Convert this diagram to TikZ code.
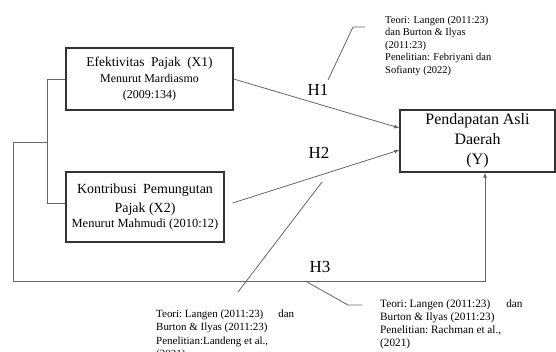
\documentclass[tikz,border=0pt]{standalone}
\usepackage{fontspec}
\setmainfont{Liberation Serif}
\usetikzlibrary{arrows.meta,calc}
\begin{document}
\begin{tikzpicture}[x=1bp,y=-1bp,
  box/.style={draw=black!80,line width=1.2bp,align=center,inner sep=0pt},
  conn/.style={draw=black!60,line width=0.8bp},
  arr/.style={conn,-{Latex[length=5bp,width=4bp]}},
  hlab/.style={font=\fontsize{17}{20}\selectfont,inner sep=2bp},
  note/.style={align=left,anchor=north west,inner sep=0pt}]
\useasboundingbox (0,0) rectangle (556,351);
% boxes
\node[box,minimum width=167bp,minimum height=62bp,font=\fontsize{12}{16.5}\selectfont] (x1) at (149.5,79)
  {{\fontsize{13.5}{16.5}\selectfont Efektivitas\hspace{3bp} Pajak\hspace{3bp} (X1)}\\Menurut Mardiasmo\\(2009:134)};
\node[box,minimum width=158bp,minimum height=70bp,font=\fontsize{12.5}{15.5}\selectfont] (x2) at (145,207)
  {{\fontsize{14}{15.5}\selectfont Kontribusi\hspace{3bp} Pemungutan}\\[3bp]{\fontsize{14}{15.5}\selectfont Pajak (X2)}\\Menurut Mahmudi (2010:12)};
\node[box,minimum width=155bp,minimum height=62bp,font=\fontsize{16}{20}\selectfont] (y) at (477.5,141)
  {Pendapatan Asli\\Daerah\\(Y)};
% connectors
\draw[arr] (x1.east) -- ([yshift=13bp]y.west);
\draw[arr] ([xshift=8bp,yshift=4bp]x2.east) -- ([yshift=-9bp]y.west);
\coordinate (brk) at (48,142);
\coordinate (lc) at (13,142);
\coordinate (bl) at (13,281);
\draw[conn] (x1.west) -- ++(-18,0) |- ([yshift=4bp]x2.west);
\draw[arr] (brk) -- (lc) -- (bl) -| ([xshift=7.5bp]y.south);
% H labels
\node[hlab] (h1) at (318,90) {H1};
\node[hlab] (h2) at (319,153) {H2};
\node[hlab,fill=white] (h3) at (320,267) {H3};
% callouts
\coordinate (c1a) at (328,80);
\coordinate (c1b) at (353,27);
\coordinate (c1c) at (365,27);
\draw[conn] (c1a) -- (c1b) -- (c1c);
\coordinate (c2a) at (322,182);
\coordinate (c2b) at (238,292);
\draw[conn] (c2a) -- (c2b);
\coordinate (c3a) at (307,282);
\coordinate (c3b) at (348,305);
\coordinate (c3c) at (362,305);
\draw[conn] (c3a) -- (c3b) -- (c3c);
% notes
\node[note,font=\fontsize{10.5}{12.5}\selectfont] (n1) at (385,16)
  {Teori: Langen (2011:23)\\dan Burton \& Ilyas\\(2011:23)\\Penelitian: Febriyani dan\\Sofianty (2022)};
\node[note,font=\fontsize{11}{13.5}\selectfont] (n2) at (156,309.5)
  {Teori:\ Langen (2011:23)\hspace{15bp}dan\\Burton \& Ilyas (2011:23)\\Penelitian:Landeng\ et al.,\\(2021)};
\node[note,font=\fontsize{11.3}{13}\selectfont] (n3) at (380,299.5)
  {Teori:\ Langen (2011:23)\hspace{16bp}dan\\Burton \& Ilyas (2011:23)\\Penelitian:\ Rachman et al.,\\(2021)};
\end{tikzpicture}
\end{document}
